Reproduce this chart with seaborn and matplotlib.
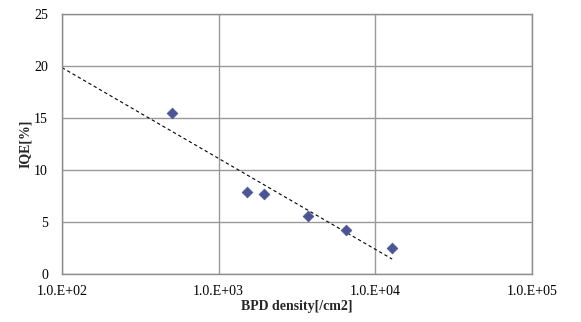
import numpy as np
import pandas as pd
import matplotlib
matplotlib.use("Agg")
import matplotlib.pyplot as plt
import seaborn as sns

### DATA ###

bpd_density = [504, 1510, 1950, 3740, 6490, 12850]
iqe = [15.45, 7.87, 7.68, 5.6, 4.25, 2.5]

x_ticks = [1e2, 1e3, 1e4, 1e5]
x_tick_labels = ["1.0.E+02", "1.0.E+03", "1.0.E+04", "1.0.E+05"]
y_ticks = [0, 5, 10, 15, 20, 25]

df = pd.DataFrame({"bpd": bpd_density, "iqe": iqe})

### LOG TRENDLINE (fit like Excel) ###

slope, intercept = np.polyfit(np.log10(df["bpd"]), df["iqe"], 1)
trend_x = np.array([x_ticks[0], df["bpd"].max()])
trend_y = slope * np.log10(trend_x) + intercept

### PLOT ###

sns.set_style("white")
plt.rcParams["font.family"] = ["Liberation Serif", "DejaVu Serif"]

fig = plt.figure(figsize=(5.81, 3.22), dpi=100)
ax = fig.add_axes([0.1067, 0.149, 0.8084, 0.809])

ax.plot(trend_x, trend_y, color="black", linestyle=(0, (3, 2.5)),
        linewidth=0.8, zorder=2)

sns.scatterplot(data=df, x="bpd", y="iqe", marker="D", s=30,
                color="#4B5496", edgecolor="#4B5496", linewidth=0.5,
                ax=ax, zorder=3)

ax.set_xscale("log")
ax.set_xlim(1e2, 1e5)
ax.set_ylim(0, 25)
ax.set_xticks(x_ticks)
ax.set_xticklabels(x_tick_labels)
ax.xaxis.set_minor_locator(matplotlib.ticker.NullLocator())
ax.set_yticks(y_ticks)

ax.grid(True, color="#999999", linewidth=1.0)
ax.set_axisbelow(True)
for sp in ax.spines.values():
    sp.set_color("#8c8c8c")
    sp.set_linewidth(1.0)

ax.tick_params(axis="both", length=0, labelsize=10, colors="black")
ax.tick_params(axis="x", pad=8)
ax.tick_params(axis="y", pad=10)

ax.set_xlabel("BPD density[/cm2]", fontsize=10, fontweight="bold", labelpad=1)
ax.set_ylabel("IQE[%]", fontsize=10, fontweight="bold", labelpad=1.5)

fig.savefig("out.png", dpi=100)
